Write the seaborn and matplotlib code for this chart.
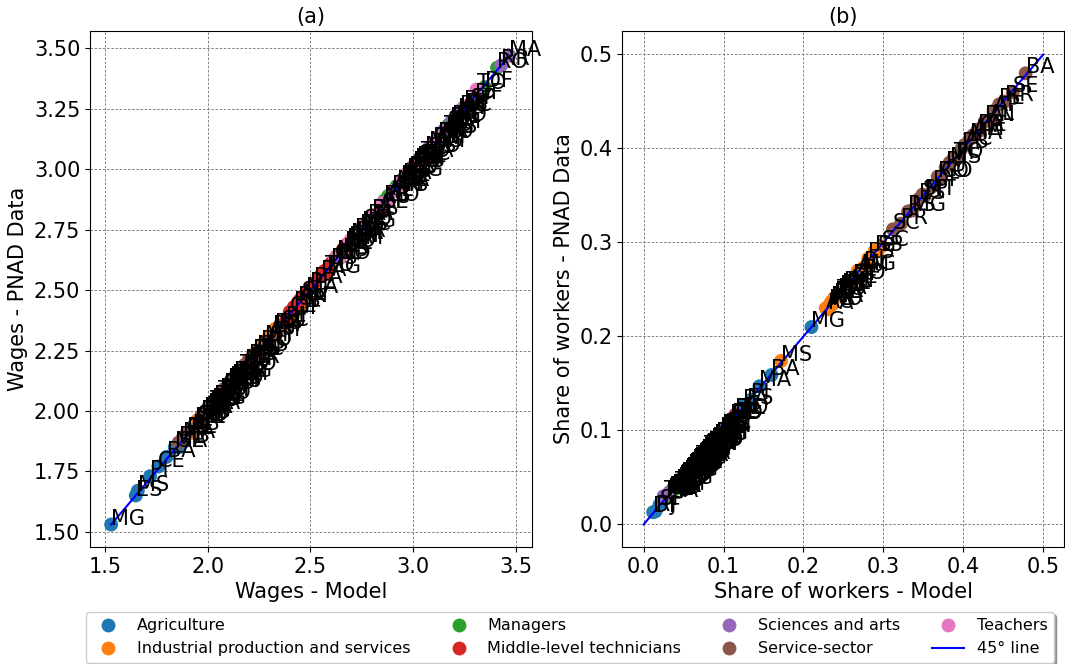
import matplotlib
matplotlib.use("Agg")
import matplotlib.pyplot as plt
import matplotlib.ticker as mticker
import pandas as pd
import seaborn as sns

# Brazilian states (same order in every list below)
states = ["AC", "AL", "AM", "AP", "BA", "CE", "DF", "ES", "GO", "MA", "MG", "MS", "MT", "PA",
          "PB", "PE", "PI", "PR", "RJ", "RN", "RO", "RR", "RS", "SC", "SE", "SP", "TO"]

occupations = ["Agriculture", "Industrial production and services", "Managers",
               "Middle-level technicians", "Sciences and arts", "Service-sector", "Teachers"]

# ---- log wages: model vs. PNAD ----
agri_wage_model = [2.02, 1.92, 2.05, 2.10, 1.80, 1.76, 2.15, 1.65, 2.08, 1.84, 1.53, 1.66, 2.12, 1.97,
                   1.88, 1.90, 1.72, 1.98, 2.00, 1.94, 2.06, 2.11, 2.03, 1.95, 1.86, 1.99, 2.01]
agri_wage_pnad = [2.03, 1.91, 2.06, 2.08, 1.81, 1.77, 2.13, 1.65, 2.09, 1.85, 1.53, 1.67, 2.10, 1.98,
                  1.87, 1.91, 1.73, 1.99, 1.98, 1.95, 2.05, 2.12, 2.04, 1.96, 1.85, 2.00, 2.02]
ind_wage_model = [2.20, 2.05, 2.30, 2.25, 2.12, 1.95, 2.42, 2.22, 2.18, 2.00, 2.15, 2.24, 2.28, 2.10,
                  1.98, 2.06, 1.92, 2.32, 2.38, 2.02, 2.26, 2.21, 2.33, 2.36, 2.08, 2.45, 2.16]
ind_wage_pnad = [2.21, 2.04, 2.31, 2.23, 2.13, 1.96, 2.40, 2.23, 2.17, 2.01, 2.14, 2.25, 2.29, 2.11,
                 1.97, 2.07, 1.91, 2.33, 2.37, 2.03, 2.27, 2.20, 2.34, 2.35, 2.09, 2.44, 2.17]
man_wage_model = [3.05, 2.88, 3.10, 3.15, 2.95, 2.85, 3.35, 3.02, 3.08, 2.92, 2.98, 3.06, 3.12, 3.00,
                  2.86, 2.96, 2.80, 3.14, 3.22, 2.90, 3.41, 3.18, 3.16, 3.17, 2.94, 3.28, 3.04]
man_wage_pnad = [3.04, 2.89, 3.09, 3.16, 2.96, 2.84, 3.34, 3.03, 3.07, 2.93, 2.97, 3.07, 3.11, 3.01,
                 2.87, 2.95, 2.81, 3.13, 3.21, 2.91, 3.42, 3.19, 3.15, 3.18, 2.93, 3.27, 3.05]
mid_wage_model = [2.62, 2.45, 2.70, 2.66, 2.52, 2.40, 2.95, 2.60, 2.64, 2.48, 2.58, 2.63, 2.72, 2.55,
                  2.42, 2.50, 2.38, 2.68, 2.80, 2.44, 2.67, 2.73, 2.74, 2.76, 2.46, 2.85, 2.57]
mid_wage_pnad = [2.63, 2.46, 2.69, 2.67, 2.53, 2.41, 2.94, 2.61, 2.63, 2.49, 2.57, 2.64, 2.71, 2.56,
                 2.43, 2.51, 2.37, 2.69, 2.79, 2.45, 2.68, 2.72, 2.75, 2.75, 2.47, 2.84, 2.58]
sci_wage_model = [3.20, 3.02, 3.18, 3.24, 3.06, 2.98, 3.30, 3.10, 3.14, 3.47, 3.08, 3.16, 3.22, 3.12,
                  3.00, 3.04, 2.94, 3.19, 3.26, 3.01, 3.21, 3.43, 3.23, 3.25, 3.03, 3.28, 3.15]
sci_wage_pnad = [3.19, 3.03, 3.17, 3.25, 3.05, 2.99, 3.29, 3.11, 3.13, 3.47, 3.09, 3.15, 3.23, 3.13,
                 3.01, 3.03, 2.95, 3.20, 3.25, 3.02, 3.20, 3.43, 3.24, 3.24, 3.04, 3.27, 3.16]
serv_wage_model = [2.10, 1.96, 2.14, 2.16, 1.98, 1.90, 2.35, 2.08, 2.12, 1.88, 2.02, 2.11, 2.18, 2.00,
                   1.93, 2.01, 1.86, 2.20, 2.26, 1.97, 2.13, 2.15, 2.22, 2.24, 1.99, 2.30, 2.05]
serv_wage_pnad = [2.11, 1.95, 2.13, 2.17, 1.99, 1.91, 2.34, 2.09, 2.11, 1.89, 2.03, 2.10, 2.19, 2.01,
                  1.92, 2.02, 1.87, 2.21, 2.25, 1.98, 2.14, 2.14, 2.23, 2.23, 2.00, 2.29, 2.06]
teach_wage_model = [2.85, 2.68, 2.90, 2.95, 2.72, 2.62, 3.25, 2.80, 2.88, 2.70, 2.75, 2.92, 2.94, 2.78,
                    2.66, 2.74, 2.64, 2.98, 3.05, 2.69, 2.97, 3.12, 3.02, 3.00, 2.76, 3.10, 3.31]
teach_wage_pnad = [2.86, 2.67, 2.91, 2.94, 2.73, 2.63, 3.26, 2.81, 2.87, 2.71, 2.76, 2.91, 2.95, 2.79,
                   2.65, 2.75, 2.63, 2.99, 3.04, 2.70, 2.98, 3.13, 3.01, 3.01, 2.77, 3.11, 3.33]

# ---- share of workers: model vs. PNAD ----
agri_share_model = [0.100, 0.120, 0.090, 0.060, 0.160, 0.110, 0.012, 0.130, 0.080, 0.145, 0.210, 0.070, 0.100, 0.125,
                    0.115, 0.090, 0.135, 0.085, 0.015, 0.080, 0.110, 0.070, 0.095, 0.075, 0.100, 0.020, 0.120]
agri_share_pnad = [0.102, 0.118, 0.092, 0.058, 0.159, 0.112, 0.013, 0.128, 0.082, 0.147, 0.210, 0.072, 0.098, 0.127,
                   0.113, 0.092, 0.133, 0.087, 0.014, 0.079, 0.112, 0.068, 0.097, 0.074, 0.102, 0.021, 0.118]
ind_share_model = [0.228, 0.252, 0.268, 0.247, 0.243, 0.259, 0.262, 0.281, 0.263, 0.235, 0.273, 0.172, 0.248, 0.231,
                   0.246, 0.255, 0.238, 0.232, 0.276, 0.251, 0.236, 0.240, 0.289, 0.298, 0.239, 0.293, 0.242]
ind_share_pnad = [0.230, 0.250, 0.270, 0.249, 0.245, 0.257, 0.260, 0.283, 0.261, 0.237, 0.271, 0.174, 0.250, 0.229,
                  0.248, 0.253, 0.240, 0.233, 0.274, 0.253, 0.234, 0.242, 0.291, 0.296, 0.241, 0.291, 0.244]
man_share_model = [0.040, 0.030, 0.038, 0.042, 0.032, 0.033, 0.062, 0.048, 0.045, 0.028, 0.044, 0.046, 0.047, 0.031,
                   0.034, 0.036, 0.029, 0.052, 0.055, 0.035, 0.041, 0.043, 0.053, 0.054, 0.037, 0.060, 0.039]
man_share_pnad = [0.041, 0.031, 0.037, 0.043, 0.033, 0.032, 0.063, 0.047, 0.046, 0.029, 0.043, 0.047, 0.046, 0.032,
                  0.035, 0.037, 0.030, 0.051, 0.056, 0.034, 0.042, 0.044, 0.052, 0.055, 0.038, 0.061, 0.040]
mid_share_model = [0.075, 0.065, 0.078, 0.082, 0.068, 0.070, 0.115, 0.090, 0.085, 0.058, 0.088, 0.084, 0.086, 0.066,
                   0.067, 0.074, 0.060, 0.095, 0.105, 0.069, 0.077, 0.080, 0.098, 0.100, 0.072, 0.110, 0.076]
mid_share_pnad = [0.077, 0.064, 0.080, 0.081, 0.070, 0.069, 0.117, 0.092, 0.083, 0.060, 0.090, 0.086, 0.084, 0.068,
                  0.066, 0.076, 0.061, 0.097, 0.103, 0.071, 0.079, 0.082, 0.100, 0.099, 0.074, 0.112, 0.078]
sci_share_model = [0.050, 0.045, 0.052, 0.055, 0.048, 0.050, 0.108, 0.065, 0.060, 0.032, 0.062, 0.058, 0.054, 0.044,
                   0.049, 0.056, 0.040, 0.068, 0.095, 0.047, 0.046, 0.053, 0.072, 0.070, 0.051, 0.100, 0.025]
sci_share_pnad = [0.052, 0.044, 0.054, 0.053, 0.049, 0.052, 0.111, 0.067, 0.058, 0.034, 0.064, 0.060, 0.052, 0.046,
                  0.048, 0.058, 0.041, 0.070, 0.097, 0.049, 0.047, 0.055, 0.074, 0.068, 0.053, 0.102, 0.030]
serv_share_model = [0.402, 0.432, 0.412, 0.438, 0.478, 0.421, 0.362, 0.344, 0.372, 0.408, 0.336, 0.383, 0.352, 0.418,
                    0.398, 0.445, 0.391, 0.322, 0.378, 0.427, 0.368, 0.452, 0.331, 0.312, 0.462, 0.349, 0.388]
serv_share_pnad = [0.404, 0.430, 0.414, 0.440, 0.480, 0.419, 0.360, 0.346, 0.370, 0.410, 0.334, 0.385, 0.350, 0.420,
                   0.400, 0.447, 0.389, 0.320, 0.380, 0.429, 0.370, 0.450, 0.333, 0.314, 0.460, 0.351, 0.390]
teach_share_model = [0.060, 0.070, 0.055, 0.065, 0.055, 0.062, 0.068, 0.052, 0.058, 0.068, 0.050, 0.056, 0.054, 0.063,
                     0.075, 0.060, 0.072, 0.058, 0.060, 0.070, 0.057, 0.078, 0.061, 0.056, 0.064, 0.062, 0.066]
teach_share_pnad = [0.062, 0.069, 0.057, 0.066, 0.056, 0.064, 0.070, 0.054, 0.057, 0.070, 0.052, 0.058, 0.053, 0.065,
                    0.077, 0.062, 0.074, 0.060, 0.059, 0.072, 0.059, 0.080, 0.063, 0.058, 0.066, 0.064, 0.068]

# 45-degree reference line end points
wage_line = [1.53, 3.47]
share_line = [0.0, 0.5]

wage_model = [agri_wage_model, ind_wage_model, man_wage_model, mid_wage_model,
              sci_wage_model, serv_wage_model, teach_wage_model]
wage_pnad = [agri_wage_pnad, ind_wage_pnad, man_wage_pnad, mid_wage_pnad,
             sci_wage_pnad, serv_wage_pnad, teach_wage_pnad]
share_model = [agri_share_model, ind_share_model, man_share_model, mid_share_model,
               sci_share_model, serv_share_model, teach_share_model]
share_pnad = [agri_share_pnad, ind_share_pnad, man_share_pnad, mid_share_pnad,
              sci_share_pnad, serv_share_pnad, teach_share_pnad]

rows = []
for i, occ in enumerate(occupations):
    for j, st in enumerate(states):
        rows.append((st, occ, wage_model[i][j], wage_pnad[i][j],
                     share_model[i][j], share_pnad[i][j]))
df = pd.DataFrame(rows, columns=["state", "occupation", "wage_model", "wage_pnad",
                                 "share_model", "share_pnad"])

palette = dict(zip(occupations, sns.color_palette("tab10", len(occupations))))

W, H = 1065, 664
fig = plt.figure(figsize=(W / 100, H / 100), dpi=100)
ax1 = fig.add_axes([90 / W, 1 - 547 / H, (532 - 90) / W, (547 - 31) / H])
ax2 = fig.add_axes([622 / W, 1 - 547 / H, (1064 - 622) / W, (547 - 31) / H])

FS = 15
panels = [
    (ax1, "wage_model", "wage_pnad", wage_line, "(a)", "Wages - Model", "Wages - PNAD Data",
     (1.427, 3.58), (1.437, 3.572), [1.5, 2.0, 2.5, 3.0, 3.5],
     [1.5, 1.75, 2.0, 2.25, 2.5, 2.75, 3.0, 3.25, 3.5]),
    (ax2, "share_model", "share_pnad", share_line, "(b)", "Share of workers - Model",
     "Share of workers - PNAD Data", (-0.027, 0.526), (-0.024, 0.525),
     [0.0, 0.1, 0.2, 0.3, 0.4, 0.5], [0.0, 0.1, 0.2, 0.3, 0.4, 0.5]),
]

for k, (ax, xc, yc, line, title, xl, yl, xlim, ylim, xt, yt) in enumerate(panels):
    sns.scatterplot(data=df, x=xc, y=yc, hue="occupation", hue_order=occupations,
                    palette=palette, s=100, linewidth=0, ax=ax, legend=(k == 0))
    ax.plot(line, line, color="blue", lw=1.5, label="45° line")
    for _, r in df.iterrows():
        ax.text(r[xc], r[yc], r["state"], fontsize=FS)
    ax.set_xlim(*xlim)
    ax.set_ylim(*ylim)
    ax.set_xticks(xt)
    ax.set_yticks(yt)
    ax.grid(True, linestyle=(0, (3, 2)), linewidth=0.6, color="#707070")
    ax.set_axisbelow(True)
    ax.set_title(title, fontsize=FS)
    ax.set_xlabel(xl, fontsize=FS)
    ax.set_ylabel(yl, fontsize=FS)
    ax.tick_params(labelsize=FS)

ax1.yaxis.set_major_formatter(mticker.FormatStrFormatter("%.2f"))

handles, labels = ax1.get_legend_handles_labels()
ax1.get_legend().remove()
fig.legend(handles, labels, loc="upper left", bbox_to_anchor=(86 / W, 1 - 612 / H),
           borderaxespad=0, ncol=4, fontsize=11.5, shadow=True, frameon=True)

fig.savefig("out.png", dpi=100)
